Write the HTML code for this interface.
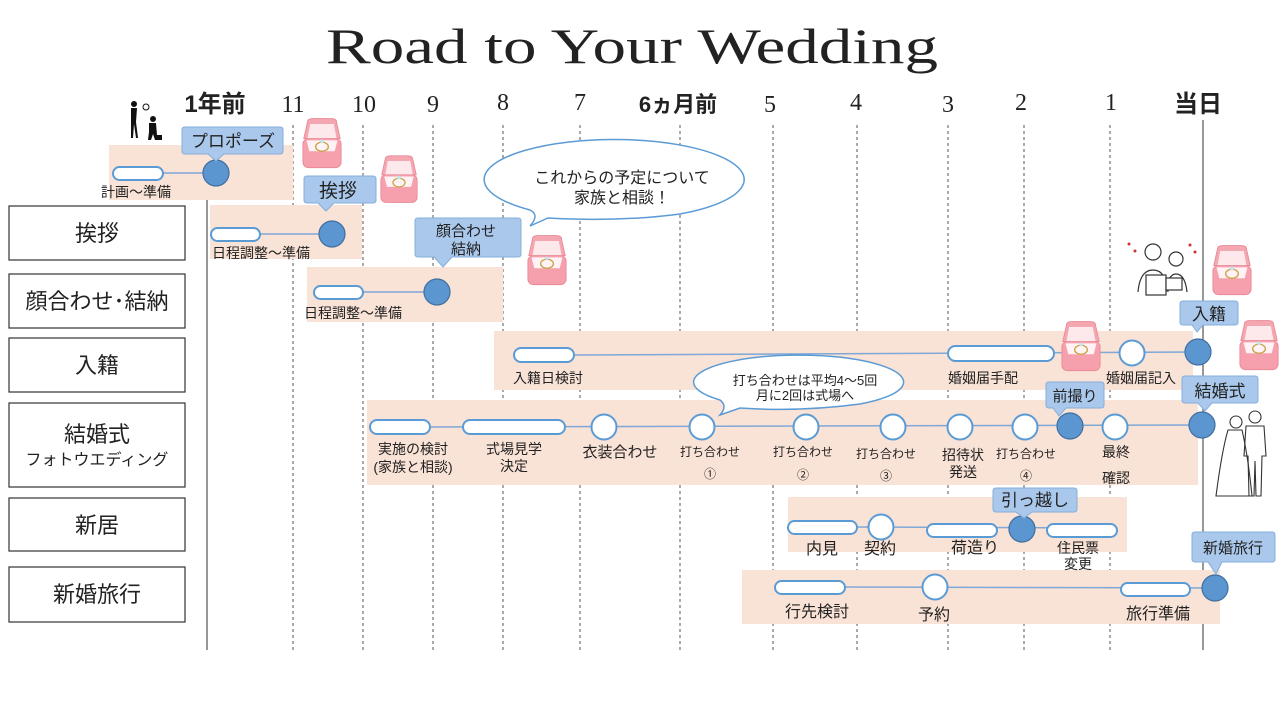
<!DOCTYPE html>
<html><head><meta charset="utf-8"><style>
html,body{margin:0;padding:0;background:#fff;}
svg{display:block;}
text{font-family:"Liberation Sans","Noto Sans CJK JP",sans-serif;fill:#222;}
.s{font-family:"Liberation Serif","Noto Serif CJK SC",serif;}
</style></head><body>
<svg width="1280" height="718" viewBox="0 0 1280 718" xmlns="http://www.w3.org/2000/svg">
<defs>
<symbol id="ring" viewBox="0 0 44 56">
<path d="M6 4 Q6 0 12 0 H32 Q38 0 38 4 L42 22 H2 Z" fill="#f4a7b0" stroke="#e98a97"/>
<path d="M9 6 H35 L38 22 H6 Z" fill="#fde8ec"/>
<rect x="1" y="22" width="42" height="32" rx="6" fill="#f7a0ad" stroke="#e98a97"/>
<path d="M5 24 H39 L36 36 H8 Z" fill="#fff3f5"/>
<ellipse cx="22" cy="31" rx="7" ry="5" fill="none" stroke="#c8a64a" stroke-width="1.5"/>
<circle cx="22" cy="25" r="2" fill="#bfe6f0"/>
</symbol>
</defs>

<text x="632" y="63" class="s" font-size="50" text-anchor="middle" textLength="612" lengthAdjust="spacingAndGlyphs" style="font-family:'Liberation Serif',serif">Road to Your Wedding</text>

<g font-size="24" text-anchor="middle">
<text x="215" y="112" font-weight="bold">1年前</text>
<text x="293" y="112" class="s">11</text>
<text x="364" y="112" class="s">10</text>
<text x="433" y="112" class="s">9</text>
<text x="503" y="110" class="s">8</text>
<text x="580" y="110" class="s">7</text>
<text x="678" y="112" font-weight="bold" font-size="22">6ヵ月前</text>
<text x="770" y="112" class="s">5</text>
<text x="856" y="110" class="s">4</text>
<text x="948" y="112" class="s">3</text>
<text x="1021" y="110" class="s">2</text>
<text x="1111" y="110" class="s">1</text>
<text x="1198" y="112" font-weight="bold">当日</text>
</g>

<g stroke="#444" stroke-width="0.9" stroke-dasharray="3,3">
<line x1="293" y1="125" x2="293" y2="650"/>
<line x1="363" y1="125" x2="363" y2="650"/>
<line x1="433" y1="125" x2="433" y2="650"/>
<line x1="503" y1="125" x2="503" y2="650"/>
<line x1="580" y1="125" x2="580" y2="650"/>
<line x1="680" y1="125" x2="680" y2="650"/>
<line x1="773" y1="125" x2="773" y2="650"/>
<line x1="857" y1="125" x2="857" y2="650"/>
<line x1="948" y1="125" x2="948" y2="650"/>
<line x1="1024" y1="125" x2="1024" y2="650"/>
<line x1="1110" y1="125" x2="1110" y2="650"/>
</g>
<line x1="207" y1="200" x2="207" y2="650" stroke="#777" stroke-width="1.5"/>
<line x1="1203" y1="120" x2="1203" y2="650" stroke="#777" stroke-width="1.5"/>

<g fill="#f9e2d6">
<rect x="109" y="145" width="184" height="55"/>
<rect x="210" y="205" width="152" height="54"/>
<rect x="307" y="267" width="196" height="55"/>
<rect x="494" y="331" width="699" height="59"/>
<rect x="367" y="400" width="831" height="85"/>
<rect x="788" y="497" width="339" height="55"/>
<rect x="742" y="570" width="478" height="54"/>
</g>

<g fill="#fff" stroke="#333" stroke-width="1.2">
<rect x="9" y="206" width="176" height="54"/>
<rect x="9" y="274" width="176" height="54"/>
<rect x="9" y="338" width="176" height="54"/>
<rect x="9" y="403" width="176" height="84"/>
<rect x="9" y="498" width="176" height="53"/>
<rect x="9" y="567" width="176" height="55"/>
</g>
<g font-size="22" text-anchor="middle">
<text x="97" y="241">挨拶</text>
<text x="97" y="309">顔合わせ･結納</text>
<text x="97" y="373">入籍</text>
<text x="97" y="442">結婚式</text>
<text x="97" y="465" font-size="16">フォトウエディング</text>
<text x="97" y="533">新居</text>
<text x="97" y="602">新婚旅行</text>
</g>

<g stroke="#7fa8d6" stroke-width="1.5">
<line x1="163" y1="173" x2="216" y2="173"/>
<line x1="260" y1="234" x2="332" y2="234"/>
<line x1="363" y1="292" x2="437" y2="292"/>
<line x1="574" y1="355" x2="1198" y2="352"/>
<line x1="430" y1="427" x2="1202" y2="425"/>
<line x1="857" y1="527" x2="1117" y2="528"/>
<line x1="845" y1="587" x2="1215" y2="588"/>
</g>

<g fill="#fff" stroke="#5b9bd5" stroke-width="2">
<rect x="113" y="167" width="50" height="13" rx="6.5"/>
<rect x="211" y="228" width="49" height="13" rx="6.5"/>
<rect x="314" y="286" width="49" height="13" rx="6.5"/>
<rect x="514" y="348" width="60" height="14" rx="7"/>
<rect x="948" y="346" width="106" height="15" rx="7.5"/>
<rect x="370" y="420" width="60" height="14" rx="7"/>
<rect x="463" y="420" width="102" height="14" rx="7"/>
<rect x="788" y="521" width="69" height="13" rx="6.5"/>
<rect x="927" y="524" width="70" height="13" rx="6.5"/>
<rect x="1047" y="524" width="70" height="13" rx="6.5"/>
<rect x="775" y="581" width="70" height="13" rx="6.5"/>
<rect x="1121" y="583" width="69" height="13" rx="6.5"/>
</g>
<g fill="#fff" stroke="#5b9bd5" stroke-width="2">
<circle cx="1132" cy="353" r="12.5"/>
<circle cx="604" cy="427" r="12.5"/>
<circle cx="702" cy="427" r="12.5"/>
<circle cx="806" cy="427" r="12.5"/>
<circle cx="893" cy="427" r="12.5"/>
<circle cx="960" cy="427" r="12.5"/>
<circle cx="1025" cy="427" r="12.5"/>
<circle cx="1115" cy="427" r="12.5"/>
<circle cx="881" cy="527" r="12.5"/>
<circle cx="935" cy="587" r="12.5"/>
</g>
<g fill="#5b96d0" stroke="#3f6f9f" stroke-width="1.2">
<circle cx="216" cy="173" r="13"/>
<circle cx="332" cy="234" r="13"/>
<circle cx="437" cy="292" r="13"/>
<circle cx="1198" cy="352" r="13"/>
<circle cx="1070" cy="426" r="13"/>
<circle cx="1202" cy="425" r="13"/>
<circle cx="1022" cy="529" r="13"/>
<circle cx="1215" cy="588" r="13"/>
</g>

<g fill="#a9c8eb" stroke="#86aedb" stroke-width="1">
<path d="M185 127 H280 Q283 127 283 130 V151 Q283 154 280 154 H224 L216 161 L208 154 H185 Q182 154 182 151 V130 Q182 127 185 127Z"/>
<path d="M307 176 H373 Q376 176 376 179 V200 Q376 203 373 203 H334 L326 211 L318 203 H307 Q304 203 304 200 V179 Q304 176 307 176Z"/>
<path d="M418 218 H518 Q521 218 521 221 V254 Q521 257 518 257 H452 L443 267 L434 257 H418 Q415 257 415 254 V221 Q415 218 418 218Z"/>
<path d="M1183 301 H1235 Q1238 301 1238 304 V322 Q1238 325 1235 325 H1203 L1197 332 L1192 325 H1183 Q1180 325 1180 322 V304 Q1180 301 1183 301Z"/>
<path d="M1049 382 H1101 Q1104 382 1104 385 V405 Q1104 408 1101 408 H1066 L1059 416 L1053 408 H1049 Q1046 408 1046 405 V385 Q1046 382 1049 382Z"/>
<path d="M1185 376 H1255 Q1258 376 1258 379 V400 Q1258 403 1255 403 H1212 L1205 411 L1198 403 H1185 Q1182 403 1182 400 V379 Q1182 376 1185 376Z"/>
<path d="M996 488 H1074 Q1077 488 1077 491 V509 Q1077 512 1074 512 H1032 L1024 518 L1016 512 H996 Q993 512 993 509 V491 Q993 488 996 488Z"/>
<path d="M1195 532 H1272 Q1275 532 1275 535 V559 Q1275 562 1272 562 H1222 L1216 574 L1208 562 H1195 Q1192 562 1192 559 V535 Q1192 532 1195 532Z"/>
</g>
<g text-anchor="middle">
<text x="233" y="147" font-size="17">プロポーズ</text>
<text x="338" y="197" font-size="19">挨拶</text>
<text x="466" y="236" font-size="15">顔合わせ</text>
<text x="466" y="254" font-size="15">結納</text>
<text x="1209" y="320" font-size="17">入籍</text>
<text x="1075" y="401" font-size="15">前撮り</text>
<text x="1220" y="397" font-size="17">結婚式</text>
<text x="1035" y="506" font-size="17">引っ越し</text>
<text x="1233" y="553" font-size="15">新婚旅行</text>
</g>

<path d="M530 226 L548 218 Q620 222 680 214 A130 40 0 1 0 530 210 Q540 215 530 226Z" fill="#fff" stroke="#5b9bd5" stroke-width="1.5"/>
<path d="M720 415 L740 408 Q800 412 860 404 A105 27 0 1 0 720 400 Q728 406 720 415Z" fill="#fff" stroke="#5b9bd5" stroke-width="1.5"/>
<g text-anchor="middle">
<text x="622" y="183" font-size="16">これからの予定について</text>
<text x="622" y="203" font-size="16">家族と相談！</text>
<text x="805" y="385" font-size="13">打ち合わせは平均4～5回</text>
<text x="805" y="400" font-size="13">月に2回は式場へ</text>
</g>

<g font-size="14">
<text x="101" y="197">計画～準備</text>
<text x="212" y="258">日程調整～準備</text>
<text x="304" y="318">日程調整～準備</text>
<text x="513" y="383">入籍日検討</text>
<text x="948" y="383">婚姻届手配</text>
<text x="1106" y="383">婚姻届記入</text>
</g>
<g font-size="14" text-anchor="middle">
<text x="413" y="454">実施の検討</text>
<text x="413" y="472">(家族と相談)</text>
<text x="514" y="454">式場見学</text>
<text x="514" y="471">決定</text>
<text x="620" y="457" font-size="15">衣装合わせ</text>
<text x="710" y="456" font-size="12">打ち合わせ</text>
<text x="710" y="478" font-size="12">①</text>
<text x="803" y="456" font-size="12">打ち合わせ</text>
<text x="803" y="479" font-size="12">②</text>
<text x="886" y="458" font-size="12">打ち合わせ</text>
<text x="886" y="480" font-size="12">③</text>
<text x="963" y="460">招待状</text>
<text x="963" y="477">発送</text>
<text x="1026" y="458" font-size="12">打ち合わせ</text>
<text x="1026" y="480" font-size="12">④</text>
<text x="1116" y="457">最終</text>
<text x="1116" y="483">確認</text>
<text x="822" y="554" font-size="16">内見</text>
<text x="880" y="554" font-size="16">契約</text>
<text x="975" y="553" font-size="16">荷造り</text>
<text x="1078" y="553">住民票</text>
<text x="1078" y="569">変更</text>
<text x="817" y="617" font-size="16">行先検討</text>
<text x="934" y="620" font-size="16">予約</text>
<text x="1158" y="619" font-size="16">旅行準備</text>
</g>

<use href="#ring" x="302" y="117" width="40" height="54"/>
<use href="#ring" x="380" y="152" width="38" height="56"/>
<use href="#ring" x="527" y="233" width="40" height="56"/>
<use href="#ring" x="1061" y="319" width="40" height="56"/>
<use href="#ring" x="1212" y="243" width="40" height="56"/>
<use href="#ring" x="1239" y="318" width="40" height="56"/>

<g fill="#111">
<circle cx="134" cy="104" r="3"/>
<path d="M131 108 h6 l-1 14 l2 16 h-2 l-2 -14 l-1 14 h-2 l0 -16z"/>
<circle cx="153" cy="119" r="3"/>
<path d="M149 123 h7 l1 12 h5 v5 h-7 l-2 -6 l-2 6 h-3 l1 -8z"/>
</g>
<circle cx="146" cy="107" r="3" fill="none" stroke="#111"/>

<g fill="none" stroke="#333" stroke-width="1.2">
<circle cx="1153" cy="252" r="8"/>
<circle cx="1176" cy="259" r="7"/>
<path d="M1138 292 q2 -22 15 -22 q13 0 15 22"/>
<path d="M1166 292 q2 -18 10 -18 q9 0 11 18"/>
<rect x="1146" y="275" width="20" height="20" fill="#fff"/>
<rect x="1166" y="278" width="16" height="12" fill="#fff"/>
</g>
<g fill="#c33"><circle cx="1129" cy="244" r="1.5"/><circle cx="1135" cy="251" r="1.5"/><circle cx="1190" cy="245" r="1.5"/><circle cx="1195" cy="252" r="1.5"/></g>

<g fill="none" stroke="#333" stroke-width="1.1">
<circle cx="1236" cy="422" r="6"/>
<circle cx="1255" cy="417" r="6"/>
<path d="M1228 430 q-6 20 -12 66 h36 q-4 -40 -10 -66z"/>
<path d="M1246 426 h18 l2 30 h-4 l-1 40 h-5 l-1 -35 l-1 35 h-5 l-1 -40 h-4z"/>
</g>
</svg>
</body></html>
